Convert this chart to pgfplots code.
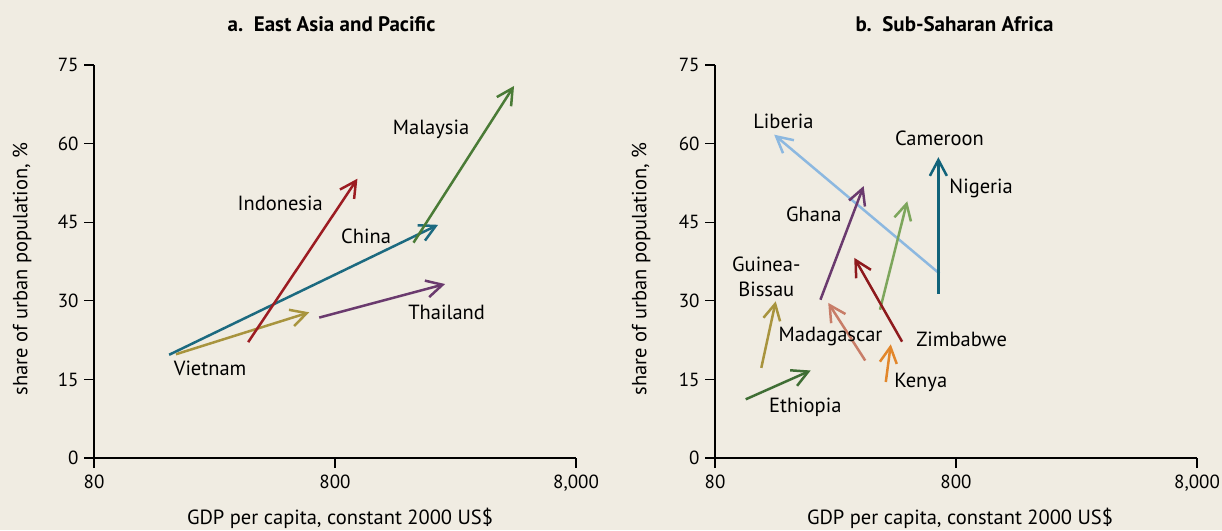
\documentclass[border=0pt]{standalone}
\usepackage{fontspec}
\setmainfont{PT Sans}
\usepackage{pgfplots}
\pgfplotsset{compat=1.18}
\usetikzlibrary{arrows.meta}
\definecolor{bg}{RGB}{240,236,226}
\definecolor{cOlive}{RGB}{168,148,62}
\definecolor{cTeal}{RGB}{28,106,128}
\definecolor{cRed}{RGB}{156,28,34}
\definecolor{cGreen}{RGB}{74,123,54}
\definecolor{cPurple}{RGB}{106,58,110}
\definecolor{cLBlue}{RGB}{140,184,224}
\definecolor{cNTeal}{RGB}{17,99,122}
\definecolor{cLGreen}{RGB}{125,166,92}
\definecolor{cZRed}{RGB}{142,26,29}
\definecolor{cSalmon}{RGB}{200,125,104}
\definecolor{cOrange}{RGB}{226,134,42}
\definecolor{cDGreen}{RGB}{63,110,52}
\tikzset{
  arr/.style={line width=2.5pt, -{Straight Barb[length=16pt,width=17pt]}},
  lab/.style={font=\fontsize{20.5}{24}\selectfont, anchor=base, inner sep=0pt},
}
\begin{document}
\begin{tikzpicture}[x=1pt,y=1pt]
\fill[bg] (0,0) rectangle (1222,530);
\path[use as bounding box] (0,0) rectangle (1222,530);
\begin{axis}[at={(94pt,72pt)}, anchor=south west,
    width=482pt, height=393pt, scale only axis,
    xmode=log, xmin=80, xmax=8000, ymin=0, ymax=75,
    axis x line*=bottom, axis y line*=left,
    axis line style={line width=1.3pt, black},
    xtick={80,800,8000}, xticklabels={80,800,{8,000}},
    ytick={0,15,30,45,60,75},
    xminorticks=false, yminorticks=false,
    tick align=outside, major tick length=10pt,
    tick style={line width=1.3pt, black},
    yticklabel style={/pgf/number format/assume math mode=true, xshift=-2pt},
    xticklabel style={yshift=-3pt},
    tick label style={font=\fontsize{19}{22}\selectfont},
    clip=false]
\addplot[cOlive, arr] coordinates {(175,19.8) (626,27.8)};
\addplot[cTeal, arr] coordinates {(164,19.7) (2142,44.5)};
\addplot[cRed, arr] coordinates {(349,22.1) (991,53.3)};
\addplot[cGreen, arr] coordinates {(1694,41.1) (4425,71.0)};
\addplot[cPurple, arr] coordinates {(688,26.8) (2290,33.2)};
\node[lab] at (axis cs:2003,61.7) {Malaysia};
\node[lab] at (axis cs:474,47.3) {Indonesia};
\node[lab] at (axis cs:1076,40.9) {China};
\node[lab] at (axis cs:2324,26.5) {Thailand};
\node[lab] at (axis cs:242.6,15.8) {Vietnam};
\end{axis}
\begin{axis}[at={(715pt,72pt)}, anchor=south west,
    width=482pt, height=393pt, scale only axis,
    xmode=log, xmin=80, xmax=8000, ymin=0, ymax=75,
    axis x line*=bottom, axis y line*=left,
    axis line style={line width=1.3pt, black},
    xtick={80,800,8000}, xticklabels={80,800,{8,000}},
    ytick={0,15,30,45,60,75},
    xminorticks=false, yminorticks=false,
    tick align=outside, major tick length=10pt,
    tick style={line width=1.3pt, black},
    yticklabel style={/pgf/number format/assume math mode=true, xshift=-2pt},
    xticklabel style={yshift=-3pt},
    tick label style={font=\fontsize{19}{22}\selectfont},
    clip=false]
\addplot[cLBlue, arr] coordinates {(683,35.2) (140.8,61.7)};
\addplot[cNTeal, arr] coordinates {(676,31.3) (676,57.4)};
\addplot[cPurple, arr] coordinates {(219,30.2) (331,51.9)};
\addplot[cLGreen, arr] coordinates {(387,28.3) (502,49.0)};
\addplot[cZRed, arr] coordinates {(478,22.2) (302.7,38.2)};
\addplot[cSalmon, arr] coordinates {(336,18.6) (236,29.6)};
\addplot[cOrange, arr] coordinates {(409,14.5) (429,21.7)};
\addplot[cOlive, arr] coordinates {(124.5,17.2) (142.9,29.9)};
\addplot[cDGreen, arr] coordinates {(107.3,11.2) (199.6,16.7)};
\node[lab] at (axis cs:153.9,62.8) {Liberia};
\node[lab] at (axis cs:683,59.6) {Cameroon};
\node[lab] at (axis cs:1017,50.4) {Nigeria};
\node[lab] at (axis cs:205.6,45.2) {Ghana};
\node[lab] at (axis cs:130.6,35.5) {Guinea-};
\node[lab] at (axis cs:130.6,30.8) {Bissau};
\node[lab] at (axis cs:241.3,22.2) {Madagascar};
\node[lab] at (axis cs:844,21.2) {Zimbabwe};
\node[lab] at (axis cs:571,13.5) {Kenya};
\node[lab] at (axis cs:189.5,8.7) {Ethiopia};
\end{axis}
\node[font=\bfseries\fontsize{21}{25}\selectfont, anchor=base] at (331.5,498) {a.\ \ East Asia and Pacific};
\node[font=\bfseries\fontsize{21}{25}\selectfont, anchor=base] at (954.5,498) {b.\ \ Sub-Saharan Africa};
\node[font=\fontsize{20.5}{24}\selectfont, anchor=base] at (340,6) {GDP per capita, constant 2000 US\$};
\node[font=\fontsize{20.5}{24}\selectfont, anchor=base] at (960,6) {GDP per capita, constant 2000 US\$};
\node[font=\fontsize{20.5}{24}\selectfont, rotate=90, anchor=center] at (22,261) {share of urban population, \%};
\node[font=\fontsize{20.5}{24}\selectfont, rotate=90, anchor=center] at (641,261) {share of urban population, \%};
\end{tikzpicture}
\end{document}
